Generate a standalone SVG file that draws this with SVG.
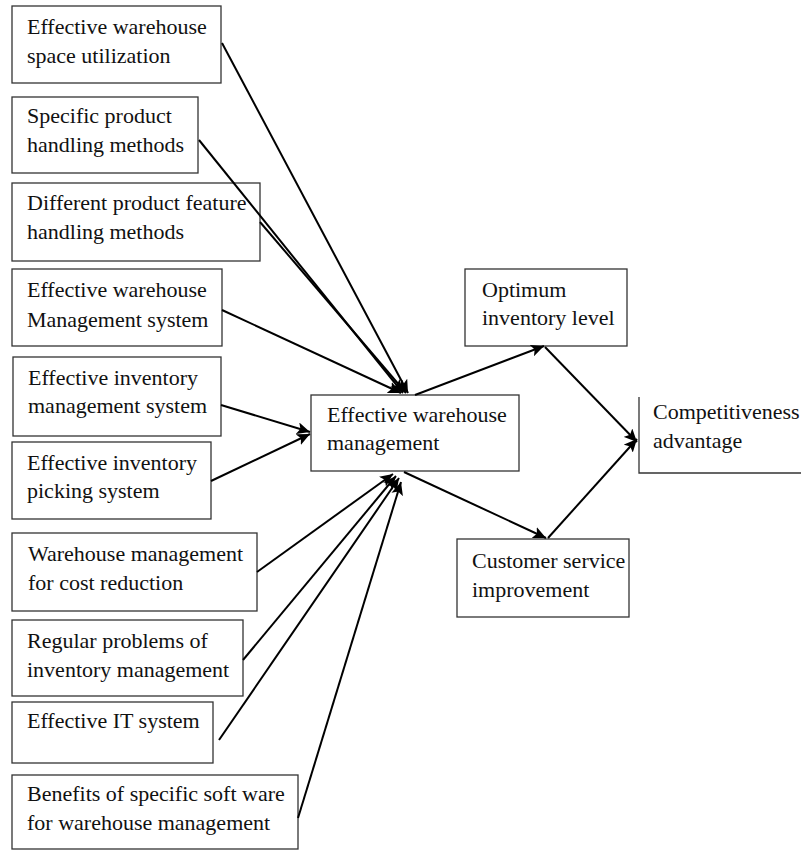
<svg xmlns="http://www.w3.org/2000/svg" width="801" height="850" viewBox="0 0 801 850">
<style>
.box{fill:#fff;stroke:#333;stroke-width:1.3}
.t{font-family:"Liberation Serif","Times New Roman",serif;font-size:22px;fill:#111}
.c{stroke:#000;stroke-width:2;fill:none;marker-end:url(#ah)}
</style>
<defs>
<marker id="ah" markerUnits="userSpaceOnUse" markerWidth="14" markerHeight="12" refX="13" refY="6" orient="auto">
<path d="M0,0 L13,6 L0,12 L3,6 z" fill="#000"/>
</marker>
</defs>
<rect width="801" height="850" fill="#fff"/>
<g id="n1"><rect class="box" x="12" y="6" width="209" height="77"/><text class="t" x="27" y="34">Effective warehouse</text><text class="t" x="27" y="63">space utilization</text></g>
<g id="n2"><rect class="box" x="12" y="97" width="186" height="76"/><text class="t" x="27" y="123">Specific product</text><text class="t" x="27" y="152">handling methods</text></g>
<g id="n3"><rect class="box" x="12" y="183" width="248" height="78"/><text class="t" x="27" y="210">Different product feature</text><text class="t" x="27" y="239">handling methods</text></g>
<g id="n4"><rect class="box" x="12" y="269" width="210" height="77"/><text class="t" x="27" y="297">Effective warehouse</text><text class="t" x="27" y="327">Management system</text></g>
<g id="n5"><rect class="box" x="13" y="357" width="208" height="79"/><text class="t" x="28" y="385">Effective inventory</text><text class="t" x="28" y="413">management system</text></g>
<g id="n6"><rect class="box" x="12" y="442" width="199" height="77"/><text class="t" x="27" y="470">Effective inventory</text><text class="t" x="27" y="498">picking system</text></g>
<g id="n7"><rect class="box" x="12" y="533" width="245" height="78"/><text class="t" x="28" y="561">Warehouse management</text><text class="t" x="28" y="590">for cost reduction</text></g>
<g id="n8"><rect class="box" x="12" y="620" width="231" height="76"/><text class="t" x="27" y="648">Regular problems of</text><text class="t" x="27" y="677">inventory management</text></g>
<g id="n9"><rect class="box" x="12" y="702" width="201" height="61"/><text class="t" x="27" y="728">Effective IT system</text></g>
<g id="n10"><rect class="box" x="12" y="775" width="286" height="74"/><text class="t" x="27" y="801">Benefits of specific soft ware</text><text class="t" x="27" y="830">for warehouse management</text></g>
<g id="center"><rect class="box" x="311" y="395" width="208" height="76"/><text class="t" x="327" y="422">Effective warehouse</text><text class="t" x="327" y="450">management</text></g>
<g id="optimum"><rect class="box" x="465" y="269" width="162" height="77"/><text class="t" x="482" y="297">Optimum</text><text class="t" x="482" y="325">inventory level</text></g>
<g id="customer"><rect class="box" x="457" y="539" width="172" height="78"/><text class="t" x="472" y="568">Customer service</text><text class="t" x="472" y="597">improvement</text></g>
<g id="competitive"><path d="M639,397 V473 H801" fill="none" stroke="#333" stroke-width="1.3"/><text class="t" x="653" y="419">Competitiveness</text><text class="t" x="653" y="448">advantage</text></g>
<g id="connectors">
<line class="c" x1="222" y1="43" x2="408" y2="393"/>
<line class="c" x1="199" y1="140" x2="403" y2="393"/>
<line class="c" x1="260" y1="222" x2="406" y2="393"/>
<line class="c" x1="222" y1="310" x2="401" y2="393"/>
<line class="c" x1="221" y1="405" x2="310" y2="432"/>
<line class="c" x1="211" y1="481" x2="310" y2="434"/>
<line class="c" x1="257" y1="572" x2="393" y2="474"/>
<line class="c" x1="243" y1="660" x2="396" y2="476"/>
<line class="c" x1="219" y1="740" x2="399" y2="478"/>
<line class="c" x1="298" y1="818" x2="401" y2="482"/>
<line class="c" x1="415" y1="395" x2="544" y2="346"/>
<line class="c" x1="404" y1="472" x2="546" y2="538"/>
<line class="c" x1="545" y1="347" x2="637" y2="442"/>
<line class="c" x1="548" y1="538" x2="637" y2="439"/>
</g>
</svg>
